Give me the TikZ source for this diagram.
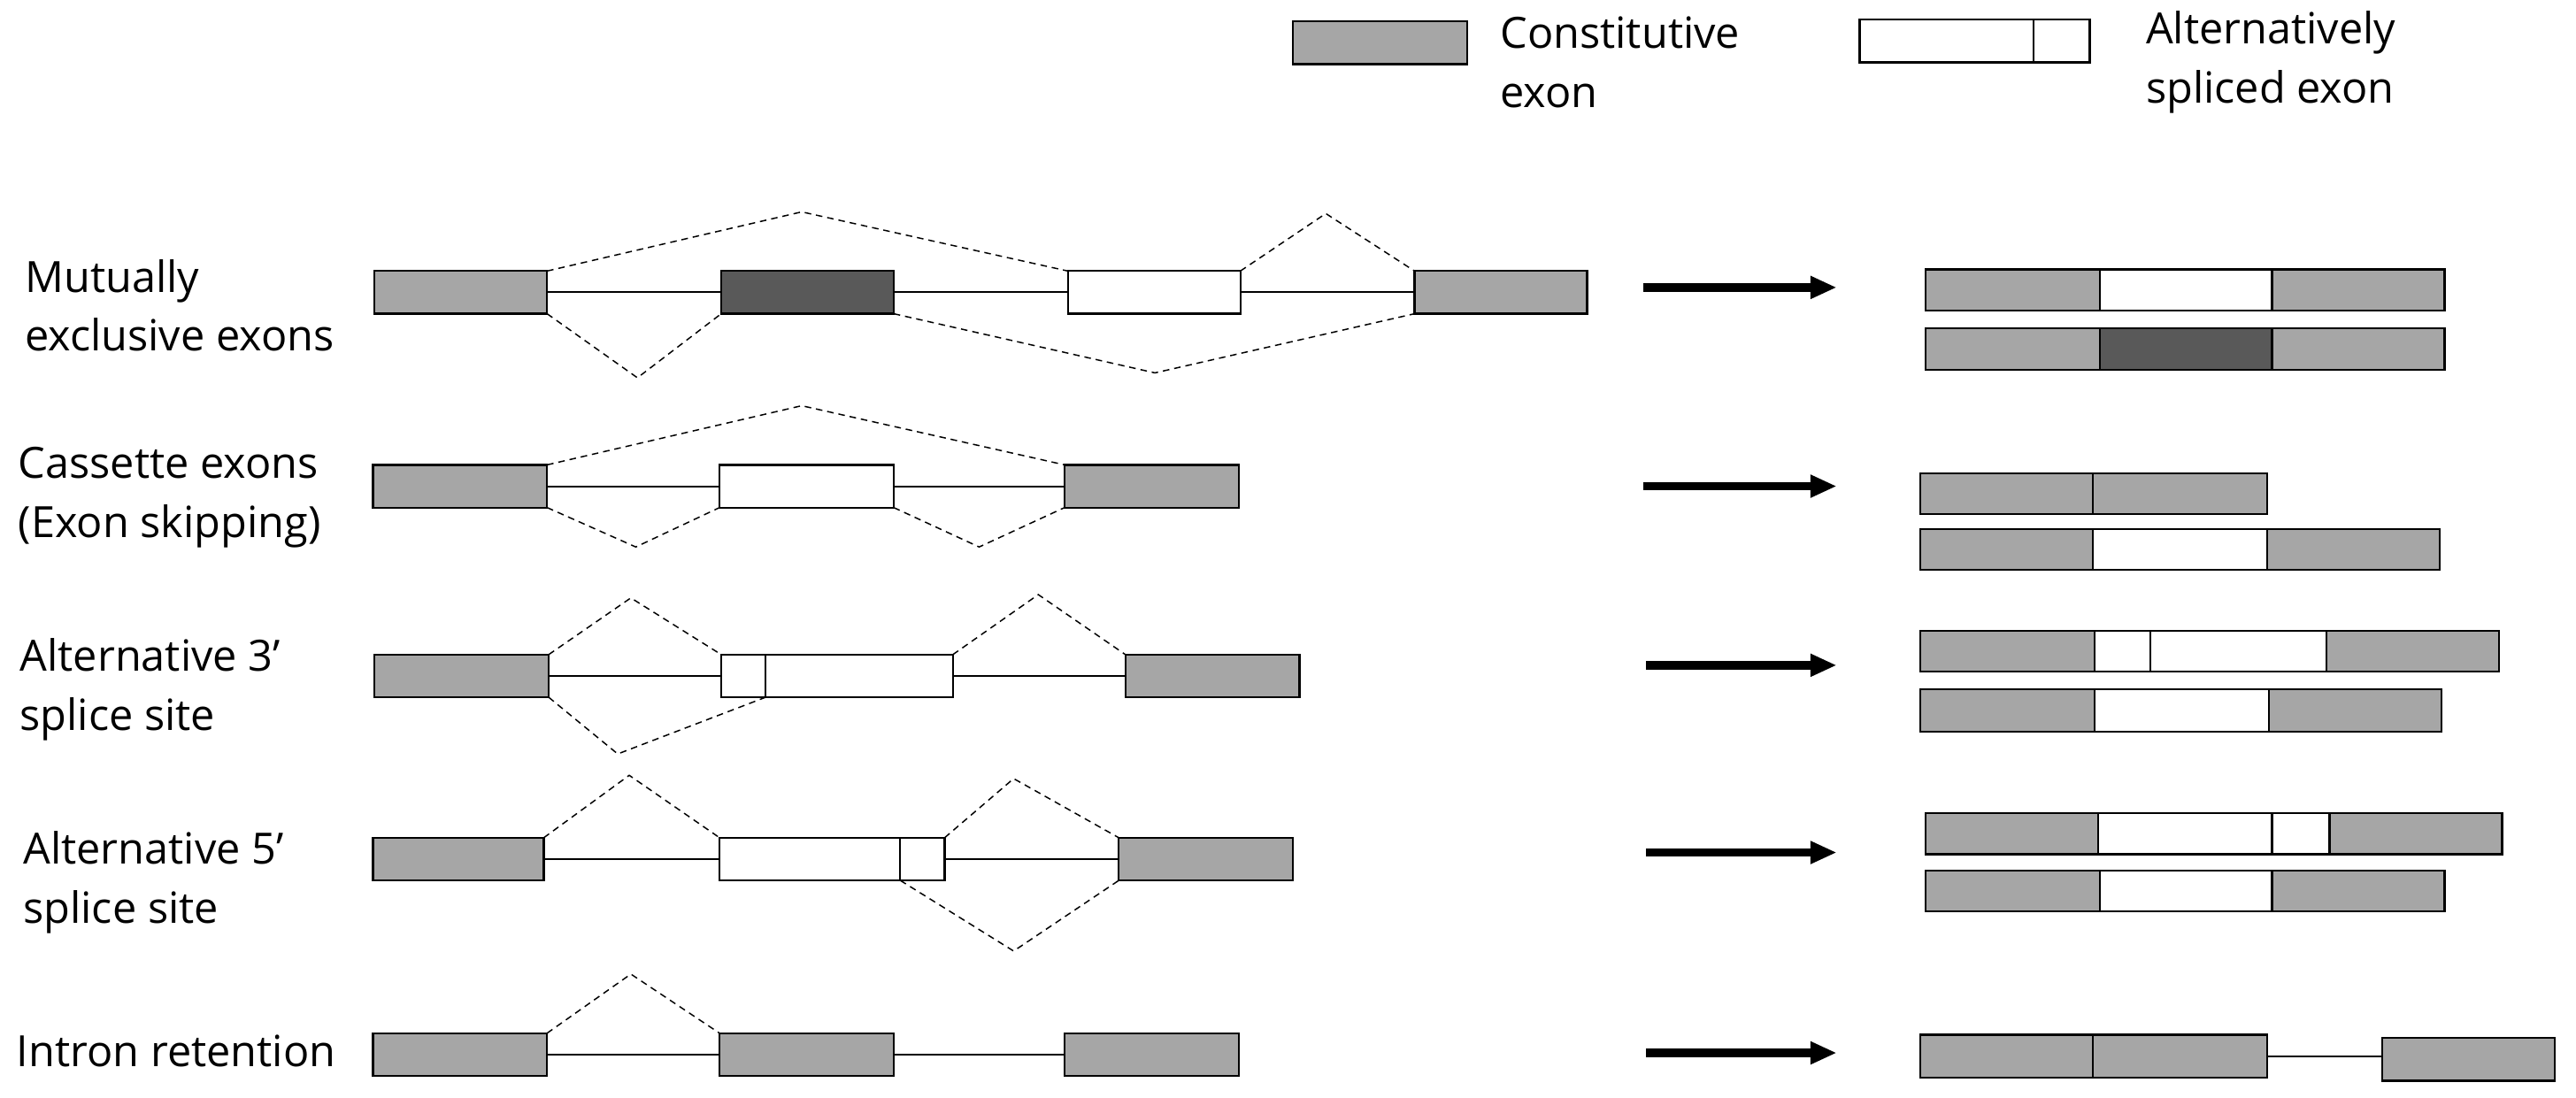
\documentclass[tikz,border=0pt]{standalone}
\usepackage{fontspec}
\setmainfont{Open Sans}
\usetikzlibrary{arrows.meta}
\definecolor{exgray}{RGB}{166,166,166}
\definecolor{exdark}{RGB}{89,89,89}
\begin{document}
\begin{tikzpicture}[x=1pt,y=-1pt,
 exon/.style={draw, line width=1.2pt, minimum height=26pt, inner sep=0pt, outer sep=0pt, anchor=west},
 con/.style={exon, fill=exgray},
 alt/.style={exon, fill=white},
 mx/.style={exon, fill=exdark},
 intron/.style={line width=1.1pt},
 splice/.style={line width=0.8pt, dash pattern=on 4pt off 3pt},
 bigarrow/.style={line width=5pt, -{Triangle[length=16pt,width=13pt]}},
 lbl/.style={anchor=west, align=left, inner sep=0pt, font=\fontsize{26.2}{36}\selectfont}]
\useasboundingbox (0,0) rectangle (1568,668);
% legend
\node[con, minimum width=106pt] (lg) at (787,26) {};
\node[lbl] (lgt) at (913,38) {Constitutive\\exon};
\node[alt, minimum width=106pt] (la1) at (1132,25) {};
\node[alt, minimum width=34pt] (la2) at (1238,25) {};
\node[lbl] (lat) at (1306,38) {Alternatively\\spliced exon};
% row 1: mutually exclusive
\node[lbl] (t1) at (15,186) {Mutually\\exclusive exons};
\node[con, minimum width=105pt] (r1a) at (228,178) {};
\node[mx, minimum width=105pt] (r1b) at (439,178) {};
\node[alt, minimum width=105pt] (r1c) at (650,178) {};
\node[con, minimum width=105pt] (r1d) at (861,178) {};
\draw[intron] (r1a.east) -- (r1b.west) (r1b.east) -- (r1c.west) (r1c.east) -- (r1d.west);
\coordinate (p1a) at (488,129);
\coordinate (p1b) at (807,130);
\coordinate (p1c) at (388,230);
\coordinate (p1d) at (703,227);
\draw[splice] (r1a.north east) -- (p1a) -- (r1c.north west);
\draw[splice] (r1c.north east) -- (p1b) -- (r1d.north west);
\draw[splice] (r1a.south east) -- (p1c) -- (r1b.south west);
\draw[splice] (r1b.south east) -- (p1d) -- (r1d.south west);
\coordinate (a1s) at (1000,175);
\coordinate (a1e) at (1118,175);
\draw[bigarrow] (a1s) -- (a1e);
\node[con, minimum width=106pt, minimum height=25pt] (m1a) at (1172,176.5) {};
\node[alt, minimum width=105pt, minimum height=25pt] (m1b) at (1278,176.5) {};
\node[con, minimum width=105pt, minimum height=25pt] (m1c) at (1383,176.5) {};
\node[con, minimum width=106pt, minimum height=25pt] (m2a) at (1172,212.5) {};
\node[mx, minimum width=105pt, minimum height=25pt] (m2b) at (1278,212.5) {};
\node[con, minimum width=105pt, minimum height=25pt] (m2c) at (1383,212.5) {};
% row 2: cassette
\node[lbl] (t2) at (11,303) {Cassette exons\\(Exon skipping)};
\node[con, minimum width=106pt] (r2a) at (227,296) {};
\node[alt, minimum width=106pt] (r2b) at (438,296) {};
\node[con, minimum width=106pt] (r2c) at (648,296) {};
\draw[intron] (r2a.east) -- (r2b.west) (r2b.east) -- (r2c.west);
\coordinate (p2a) at (488,247);
\coordinate (p2b) at (387,333);
\coordinate (p2c) at (596,333);
\draw[splice] (r2a.north east) -- (p2a) -- (r2c.north west);
\draw[splice] (r2a.south east) -- (p2b) -- (r2b.south west);
\draw[splice] (r2b.south east) -- (p2c) -- (r2c.south west);
\coordinate (a2s) at (1000,296);
\coordinate (a2e) at (1118,296);
\draw[bigarrow] (a2s) -- (a2e);
\node[con, minimum width=105pt, minimum height=25pt] (c1a) at (1169,300.5) {};
\node[con, minimum width=106pt, minimum height=25pt] (c1b) at (1274,300.5) {};
\node[con, minimum width=105pt, minimum height=25pt] (c2a) at (1169,334.5) {};
\node[alt, minimum width=106pt, minimum height=25pt] (c2b) at (1274,334.5) {};
\node[con, minimum width=105pt, minimum height=25pt] (c2c) at (1380,334.5) {};
% row 3: alternative 3'
\node[lbl] (t3) at (12,420) {Alternative 3’\\splice site};
\node[con, minimum width=106pt] (r3a) at (228,411.5) {};
\node[alt, minimum width=27pt] (r3b) at (439,411.5) {};
\node[alt, minimum width=114pt] (r3c) at (466,411.5) {};
\node[con, minimum width=106pt] (r3d) at (685,411.5) {};
\draw[intron] (r3a.east) -- (r3b.west) (r3c.east) -- (r3d.west);
\coordinate (p3a) at (384,364);
\coordinate (p3b) at (632,362);
\coordinate (p3c) at (376,459);
\draw[splice] (r3a.north east) -- (p3a) -- (r3b.north west);
\draw[splice] (r3c.north east) -- (p3b) -- (r3d.north west);
\draw[splice] (r3a.south east) -- (p3c) -- (r3c.south west);
\coordinate (a3s) at (1002,405);
\coordinate (a3e) at (1118,405);
\draw[bigarrow] (a3s) -- (a3e);
\node[con, minimum width=106pt, minimum height=25pt] (s1a) at (1169,396.5) {};
\node[alt, minimum width=34pt, minimum height=25pt] (s1b) at (1275,396.5) {};
\node[alt, minimum width=107pt, minimum height=25pt] (s1c) at (1309,396.5) {};
\node[con, minimum width=105pt, minimum height=25pt] (s1d) at (1416,396.5) {};
\node[con, minimum width=106pt, minimum height=26pt] (s2a) at (1169,432.5) {};
\node[alt, minimum width=106pt, minimum height=26pt] (s2b) at (1275,432.5) {};
\node[con, minimum width=105pt, minimum height=26pt] (s2c) at (1381,432.5) {};
% row 4: alternative 5'
\node[lbl] (t4) at (14,537) {Alternative 5’\\splice site};
\node[con, minimum width=104pt] (r4a) at (227,523) {};
\node[alt, minimum width=110pt] (r4b) at (438,523) {};
\node[alt, minimum width=27pt] (r4c) at (548,523) {};
\node[con, minimum width=106pt] (r4d) at (681,523) {};
\draw[intron] (r4a.east) -- (r4b.west) (r4c.east) -- (r4d.west);
\coordinate (p4a) at (383,472);
\coordinate (p4b) at (617,474);
\coordinate (p4c) at (617,579);
\draw[splice] (r4a.north east) -- (p4a) -- (r4b.north west);
\draw[splice] (r4c.north east) -- (p4b) -- (r4d.north west);
\draw[splice] (r4b.south east) -- (p4c) -- (r4d.south west);
\coordinate (a4s) at (1002,519);
\coordinate (a4e) at (1118,519);
\draw[bigarrow] (a4s) -- (a4e);
\node[con, minimum width=105pt, minimum height=25pt] (f1a) at (1172,507.5) {};
\node[alt, minimum width=106pt, minimum height=25pt] (f1b) at (1277,507.5) {};
\node[alt, minimum width=35pt, minimum height=25pt] (f1c) at (1383,507.5) {};
\node[con, minimum width=105pt, minimum height=25pt] (f1d) at (1418,507.5) {};
\node[con, minimum width=106pt, minimum height=25pt] (f2a) at (1172,542.5) {};
\node[alt, minimum width=105pt, minimum height=25pt] (f2b) at (1278,542.5) {};
\node[con, minimum width=105pt, minimum height=25pt] (f2c) at (1383,542.5) {};
% row 5: intron retention
\node[lbl] (t5) at (10,640) {Intron retention};
\node[con, minimum width=106pt] (r5a) at (227,642) {};
\node[con, minimum width=106pt] (r5b) at (438,642) {};
\node[con, minimum width=106pt] (r5c) at (648,642) {};
\draw[intron] (r5a.east) -- (r5b.west) (r5b.east) -- (r5c.west);
\coordinate (p5a) at (384,593);
\draw[splice] (r5a.north east) -- (p5a) -- (r5b.north west);
\coordinate (a5s) at (1002,641);
\coordinate (a5e) at (1118,641);
\draw[bigarrow] (a5s) -- (a5e);
\node[con, minimum width=105pt] (i1a) at (1169,643) {};
\node[con, minimum width=106pt] (i1b) at (1274,643) {};
\node[con, minimum width=105pt] (i1c) at (1450,645) {};
\draw[intron] (i1b.east) -- (i1c.west |- i1b.east);
\end{tikzpicture}
\end{document}
